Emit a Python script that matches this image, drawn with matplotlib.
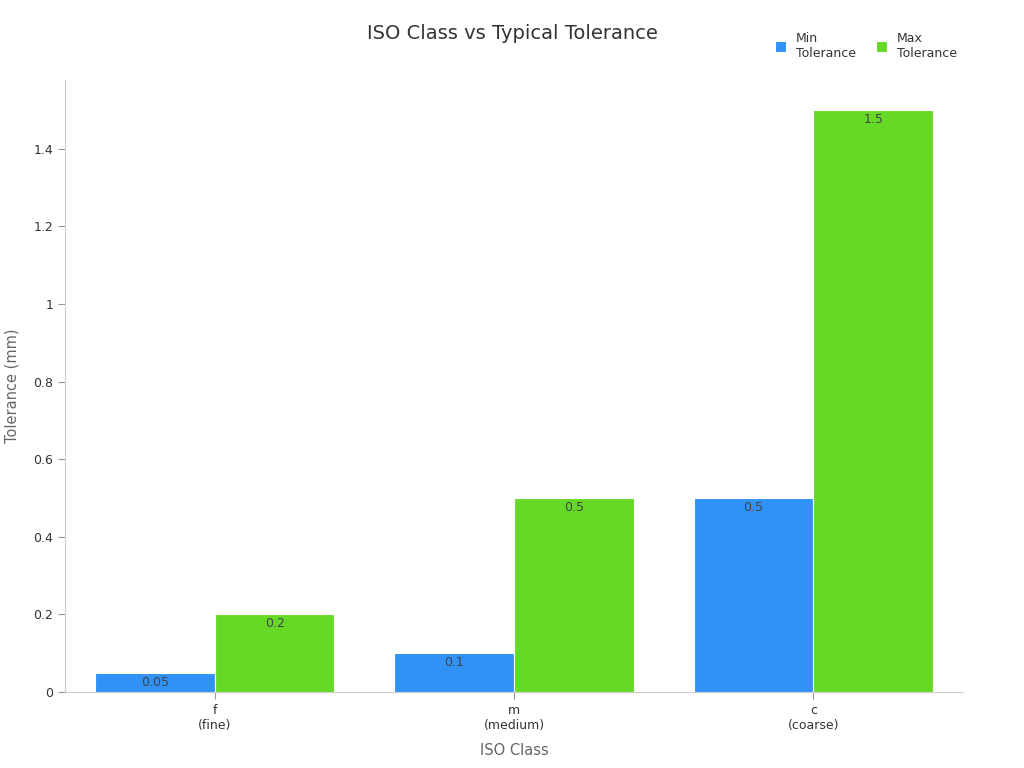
import numpy as np
import matplotlib.pyplot as plt
from matplotlib.ticker import FuncFormatter

# Data
classes = ['f\n(fine)', 'm\n(medium)', 'c\n(coarse)']
min_tol = [0.05, 0.1, 0.5]
max_tol = [0.2, 0.5, 1.5]
min_labels = ['0.05', '0.1', '0.5']
max_labels = ['0.2', '0.5', '1.5']

blue = '#3091F7'
green = '#66D926'
grey = '#CCCCCC'

fig = plt.figure(figsize=(10.24, 7.68), dpi=100)
ax = fig.add_axes([0.0635, 0.099, 0.877, 0.797])

x = np.arange(len(classes))
w = 0.4
b1 = ax.bar(x - w / 2, min_tol, w, color=blue, edgecolor='white', linewidth=0.8, label='Min\nTolerance')
b2 = ax.bar(x + w / 2, max_tol, w, color=green, edgecolor='white', linewidth=0.8, label='Max\nTolerance')

for bars, labels in [(b1, min_labels), (b2, max_labels)]:
    for rect, lab in zip(bars, labels):
        ax.text(rect.get_x() + rect.get_width() / 2, rect.get_height() - 0.008, lab,
                ha='center', va='top', fontsize=9, color='#444444')

ax.set_xlim(-0.5, 2.5)
ax.set_ylim(0, 1.578)
ax.set_xticks(x)
ax.set_xticklabels(classes, fontsize=9, color='#333333')
ax.set_yticks([0, 0.2, 0.4, 0.6, 0.8, 1.0, 1.2, 1.4])
ax.yaxis.set_major_formatter(FuncFormatter(lambda v, p: f'{v:g}'))
ax.tick_params(axis='y', labelsize=9, labelcolor='#333333', color='#999999', length=5)
ax.tick_params(axis='x', color='#999999', length=5)

for s in ['top', 'right']:
    ax.spines[s].set_visible(False)
for s in ['left', 'bottom']:
    ax.spines[s].set_color(grey)

ax.set_xlabel('ISO Class', fontsize=10.5, color='#666666', labelpad=8)
ax.set_ylabel('Tolerance (mm)', fontsize=10.5, color='#666666', labelpad=10)

fig.text(0.5, 0.957, 'ISO Class vs Typical Tolerance', ha='center', va='center',
         fontsize=14, color='#333333')

ax.legend(loc='upper right', bbox_to_anchor=(1.006, 1.097), ncol=2, frameon=False,
          fontsize=9, handlelength=0.9, handleheight=0.9, columnspacing=1.6,
          handletextpad=0.8, labelcolor='#333333')

fig.savefig('out.png', dpi=100)
